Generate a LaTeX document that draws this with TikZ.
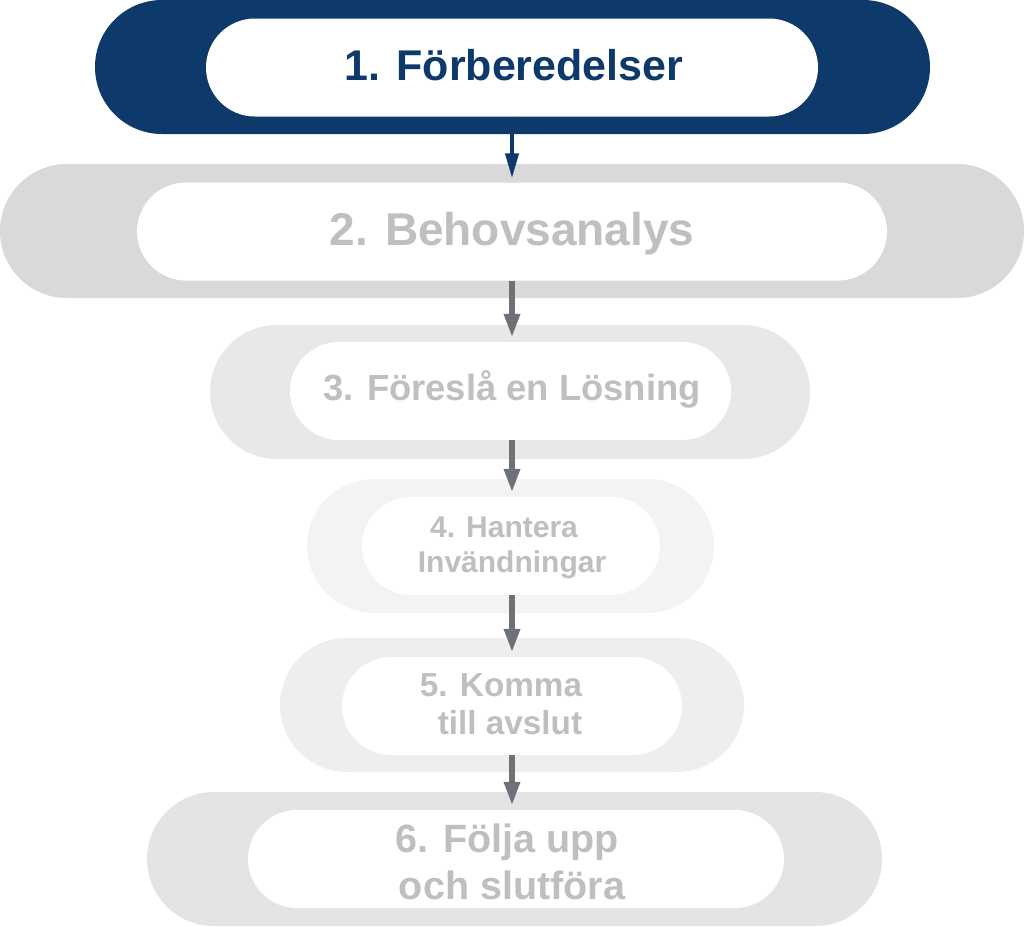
\documentclass[tikz,border=0pt]{standalone}
\usepackage{fontspec}
\setmainfont{Liberation Sans}
\usetikzlibrary{arrows.meta}
\definecolor{navy}{HTML}{0D3A6B}
\definecolor{g2}{HTML}{D9D9D9}
\definecolor{g3}{HTML}{E8E8E8}
\definecolor{g4}{HTML}{F3F3F3}
\definecolor{g5}{HTML}{EEEEEE}
\definecolor{g6}{HTML}{E4E4E4}
\definecolor{txtgray}{HTML}{BFBFBF}
\definecolor{arrgray}{HTML}{6D7278}
\begin{document}
\begin{tikzpicture}[x=1pt,y=-1pt,
  outerpill/.style={rectangle, inner sep=0pt, minimum height=134pt, rounded corners=67pt},
  innerpill/.style={rectangle, inner sep=0pt, fill=white, minimum height=98pt, rounded corners=49pt},
  label/.style={inner sep=0pt, anchor=base, font=\bfseries\fontsize{#1}{#1}\selectfont, text=txtgray},
  bluearrow/.style={draw=navy, line width=4pt, -{Triangle[width=13pt,length=25pt]}, shorten >=4pt},
  grayarrow/.style={draw=arrgray, line width=6pt, -{Triangle[width=15pt,length=24pt]}, shorten >=4pt}
]
\fill[white] (0,0) rectangle (1024,926);
\useasboundingbox (0,0) rectangle (1024,926);
\coordinate (ax) at (512,0);

% outer pills
\node[outerpill, fill=navy, minimum width=835pt] (o1) at (512.5,67) {};
\node[outerpill, fill=g2, minimum width=1024pt] (o2) at (512,231) {};
\node[outerpill, fill=g3, minimum width=600pt] (o3) at (510,392) {};
\node[outerpill, fill=g4, minimum width=407pt] (o4) at (510.5,546) {};
\node[outerpill, fill=g5, minimum width=464pt] (o5) at (512,705) {};
\node[outerpill, fill=g6, minimum width=735pt] (o6) at (514.5,859) {};

% inner pills
\node[innerpill, minimum width=612pt] (i1) at (512,67.5) {};
\node[innerpill, minimum width=750pt] (i2) at (512,231.5) {};
\node[innerpill, minimum width=441pt] (i3) at (510.5,391) {};
\node[innerpill, minimum width=298pt] (i4) at (511,546) {};
\node[innerpill, minimum width=340pt] (i5) at (512,706) {};
\node[innerpill, minimum width=536pt] (i6) at (516,859) {};

% labels
\node[label=43, text=navy] (t1) at (514,80) {1. Förberedelser};
\node[label=46] (t2) at (512,245) {2. Behovsanalys};
\node[label=36.4] (t3) at (512,400) {3. Föreslå en Lösning};
\node[label=30] (t4a) at (504,537) {4. Hantera};
\node[label=30] (t4b) at (512,572) {Invändningar};
\node[label=33.3] (t5a) at (501,696) {5. Komma};
\node[label=33.3] (t5b) at (510,734) {till avslut};
\node[label=39.5] (t6a) at (507,852) {6. Följa upp};
\node[label=39.5] (t6b) at (512,899) {och slutföra};

% arrows
\draw[bluearrow] (i1.south -| ax) -- (i2.north -| ax);
\draw[grayarrow] (i2.south -| ax) -- (i3.north -| ax);
\draw[grayarrow] (i3.south -| ax) -- (i4.north -| ax);
\draw[grayarrow] (i4.south -| ax) -- (i5.north -| ax);
\draw[grayarrow] (i5.south -| ax) -- (i6.north -| ax);
\end{tikzpicture}
\end{document}
